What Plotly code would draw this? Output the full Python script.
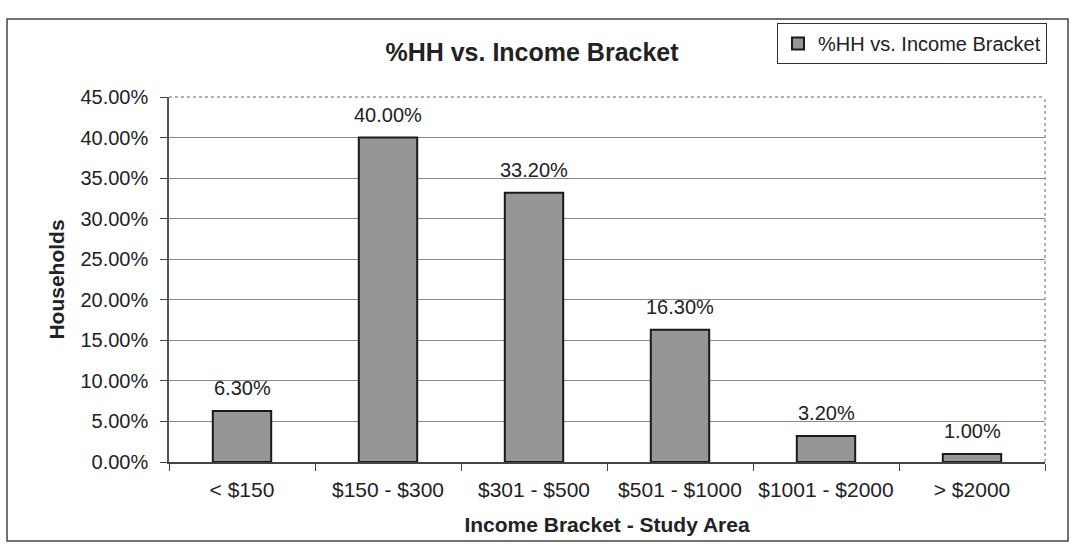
import plotly.graph_objects as go

categories = ["< $150", "$150 - $300", "$301 - $500", "$501 - $1000", "$1001 - $2000", "> $2000"]
households = [0.063, 0.400, 0.332, 0.163, 0.032, 0.010]
series_name = "%HH vs. Income Bracket"
y_ticks = [0, 0.05, 0.10, 0.15, 0.20, 0.25, 0.30, 0.35, 0.40, 0.45]

W, H = 1073, 548
L, R, T, B = 169, 28, 97, 86
pw, ph = W - L - R, H - T - B

def px_x(x):
    return (x - L) / pw

def px_y(y):
    return (H - B - y) / ph

font = "Liberation Sans, Arial, sans-serif"
ink = "#222222"

fig = go.Figure()
fig.add_trace(go.Bar(
    x=categories,
    y=households,
    name=series_name,
    marker=dict(color="#969696", line=dict(color="#1a1a1a", width=2)),
    showlegend=True,
))

# value labels above each bar
annotations = [
    dict(x=c, y=v, xref="x", yref="y", text=f"{v:.2%}", showarrow=False,
         yanchor="middle", yshift=23, font=dict(size=20, color=ink))
    for c, v in zip(categories, households)
]

fig.update_layout(
    width=W, height=H,
    margin=dict(l=L, r=R, t=T, b=B),
    paper_bgcolor="white",
    plot_bgcolor="white",
    font=dict(family=font, size=20, color=ink),
    bargap=0.6,
    title=dict(text="<b>%HH vs. Income Bracket</b>", x=px_x(532), xref="paper",
               xanchor="center", y=1 - 52 / H, yanchor="middle",
               font=dict(size=25, color=ink)),
    showlegend=True,
    legend=dict(x=px_x(777), y=px_y(23), xanchor="left", yanchor="top",
                bordercolor="#333", borderwidth=1, bgcolor="white",
                font=dict(size=20, color=ink), itemwidth=30,
                itemsizing="constant", tracegroupgap=0),
    annotations=annotations,
    xaxis=dict(
        showline=True, linecolor="#444", linewidth=1.5,
        ticks="outside", tickson="boundaries", ticklen=7, tickcolor="#444",
        tickfont=dict(size=21), showgrid=False, ticklabelstandoff=8,
        title=dict(text="<b>Income Bracket - Study Area</b>", standoff=17,
                   font=dict(size=21)),
    ),
    yaxis=dict(
        range=[0, 0.45], tickvals=y_ticks, tickformat=".2%",
        showline=True, linecolor="#555", linewidth=1.5,
        ticks="outside", ticklen=7, tickcolor="#444",
        tickfont=dict(size=20), ticklabelstandoff=8,
        showgrid=True, gridcolor="#8a8a8a", gridwidth=1,
        zeroline=False,
        title=dict(text="<b>Households</b>", standoff=10, font=dict(size=21)),
    ),
    shapes=[
        # outer chart frame
        dict(type="rect", xref="paper", yref="paper",
             x0=px_x(7), x1=px_x(1068), y0=px_y(541), y1=px_y(19),
             line=dict(color="#444", width=1.5), fillcolor="rgba(0,0,0,0)", layer="below"),
        # plot area border (top and right)
        dict(type="line", xref="paper", yref="paper", x0=0, x1=1, y0=1, y1=1,
             line=dict(color="#999", width=1.5, dash="dot")),
        dict(type="line", xref="paper", yref="paper", x0=1, x1=1, y0=0, y1=1,
             line=dict(color="#999", width=1.5, dash="dot")),
    ],
)

fig.write_html("out.html")
